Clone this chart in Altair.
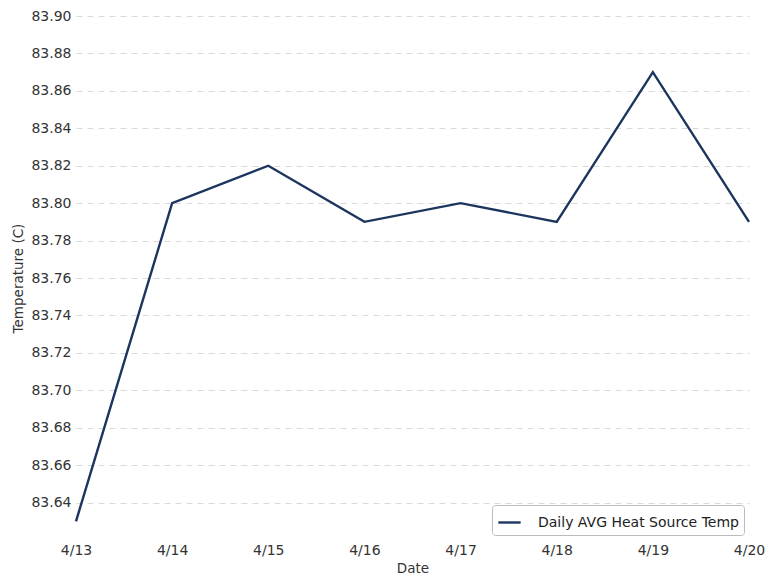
import altair as alt
import pandas as pd

dates = ["4/13", "4/14", "4/15", "4/16", "4/17", "4/18", "4/19", "4/20"]
temps = [83.63, 83.80, 83.82, 83.79, 83.80, 83.79, 83.87, 83.79]
y_ticks = [83.64, 83.66, 83.68, 83.70, 83.72, 83.74, 83.76, 83.78, 83.80,
           83.82, 83.84, 83.86, 83.88, 83.90]
series_name = "Daily AVG Heat Source Temp"

df = pd.DataFrame({"Date": dates, "Temp": temps, "series": [series_name] * len(dates)})

FONT = "DejaVu Sans"

chart = alt.Chart(df).mark_line(strokeWidth=2.4).encode(
    x=alt.X("Date:O", sort=dates,
            scale=alt.Scale(type="point", padding=0),
            axis=alt.Axis(title="Date", labelAngle=0, domain=False, ticks=False,
                          grid=False, labelPadding=3, labelFontSize=14,
                          titleFontSize=13.5, titleFontWeight="normal",
                          labelColor="#333", titleColor="#333", titlePadding=4,
                          labelFont=FONT, titleFont=FONT)),
    y=alt.Y("Temp:Q", scale=alt.Scale(domain=[83.62, 83.90], zero=False, nice=False),
            axis=alt.Axis(title="Temperature (C)", values=y_ticks, format=".2f",
                          domain=False, ticks=False, grid=True, gridDash=[6, 5],
                          gridColor="#d9d9d9", gridWidth=1, labelPadding=5,
                          labelFontSize=14, titleFontSize=13.5,
                          titleFontWeight="normal", labelColor="#333",
                          titleColor="#333", titlePadding=5,
                          labelFont=FONT, titleFont=FONT)),
    color=alt.Color("series:N",
                    scale=alt.Scale(range=["#1b355e"]),
                    legend=alt.Legend(title=None, orient="bottom-right",
                                      symbolType="stroke", symbolStrokeWidth=2.4,
                                      symbolSize=500, labelFontSize=14,
                                      labelLimit=400, labelOffset=16,
                                      labelFont=FONT, labelColor="#222",
                                      strokeColor="#bbb", fillColor="white",
                                      padding=5, cornerRadius=3,
                                      offset=5)),
).properties(
    width=673, height=524,
    autosize=alt.AutoSizeParams(type="none"),
    padding={"left": 68, "top": 8, "right": 16, "bottom": 35},
).configure_view(stroke=None)

chart.save("out.html", embed_options={"renderer": "svg", "actions": False})
